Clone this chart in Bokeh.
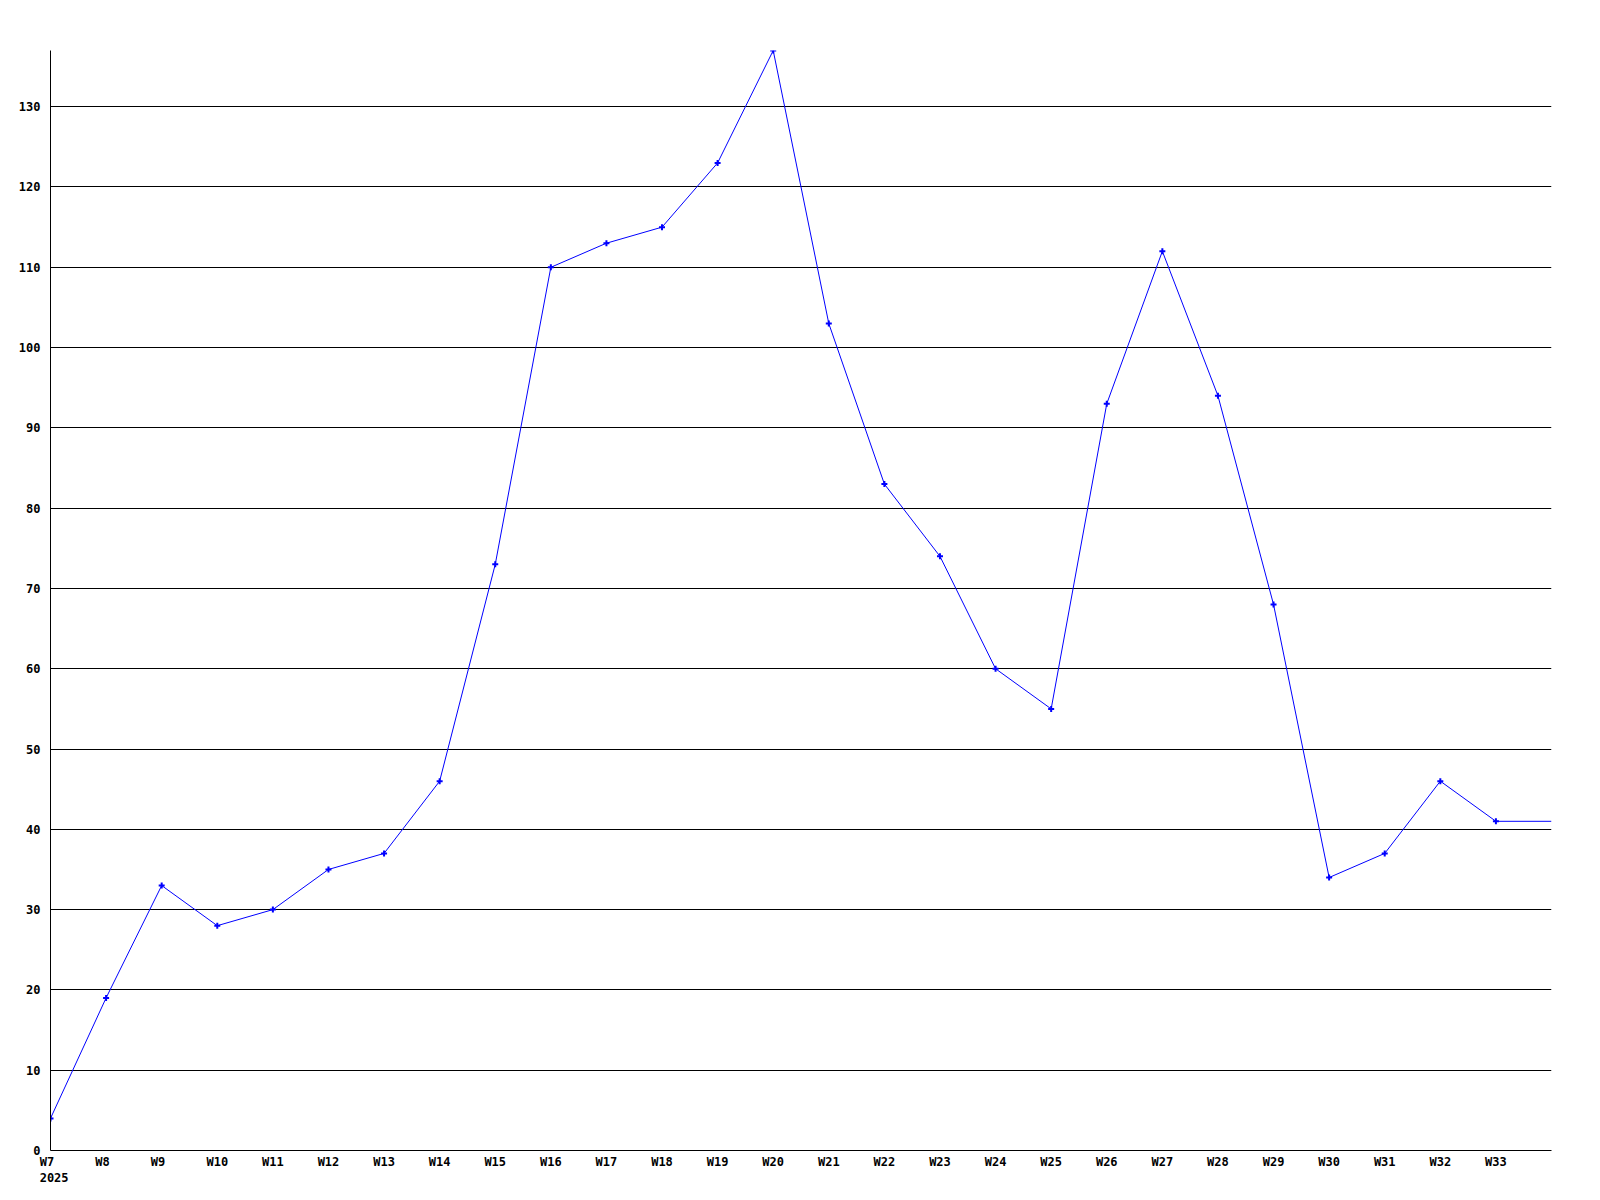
from bokeh.plotting import figure
from bokeh.models import Range1d, FixedTicker
from bokeh.embed import file_html
from bokeh.resources import INLINE

weeks = ["W7", "W8", "W9", "W10", "W11", "W12", "W13", "W14", "W15", "W16", "W17",
         "W18", "W19", "W20", "W21", "W22", "W23", "W24", "W25", "W26", "W27",
         "W28", "W29", "W30", "W31", "W32", "W33"]
year_label = "2025"
values = [4, 19, 33, 28, 30, 35, 37, 46, 73, 110, 113, 115, 123, 137, 103, 83, 74,
          60, 55, 93, 112, 94, 68, 34, 37, 46, 41]
# line continues flat past the last week to the edge of the chart
tail_value = 41
y_ticks = list(range(0, 140, 10))

xs = list(range(len(weeks)))
line_x = xs + [len(weeks)]
line_y = values + [tail_value]

FONT = "DejaVu Sans Mono"
NBSP = "\u00a0"

p = figure(width=1584, height=1190, output_backend="svg", toolbar_location=None,
           x_range=Range1d(0, len(weeks)), y_range=Range1d(0, max(values)),
           min_border_left=50, min_border_top=50, min_border_right=33, min_border_bottom=40)
p.outline_line_color = None
p.background_fill_color = "white"
p.border_fill_color = "white"

p.line(line_x, line_y, line_color="#0000ff", line_width=1)
p.scatter(xs, values, marker="cross", size=6, line_color="#0000ff", line_width=2)

p.xgrid.grid_line_color = None
p.ygrid.grid_line_color = "black"
p.ygrid.grid_line_width = 1

p.yaxis.ticker = FixedTicker(ticks=y_ticks)
p.xaxis.ticker = FixedTicker(ticks=xs)
# labels are laid out as three-character cells (monospace), so pad short ones
overrides = {i: (w + NBSP if len(w) < 3 else w) for i, w in enumerate(weeks)}
overrides[0] = overrides[0] + "\n" + NBSP + year_label
p.xaxis.major_label_overrides = overrides

for ax in (p.xaxis, p.yaxis):
    ax.axis_line_color = "black"
    ax.axis_line_width = 1
    ax.major_tick_line_color = None
    ax.minor_tick_line_color = None
    ax.major_tick_out = 0
    ax.major_tick_in = 0
    ax.major_label_text_font = FONT
    ax.major_label_text_font_style = "bold"
    ax.major_label_text_font_size = "12px"
    ax.major_label_text_color = "black"
p.yaxis.major_label_standoff = 10
p.xaxis.major_label_standoff = 4

open("out.html", "w").write(file_html(p, INLINE))
